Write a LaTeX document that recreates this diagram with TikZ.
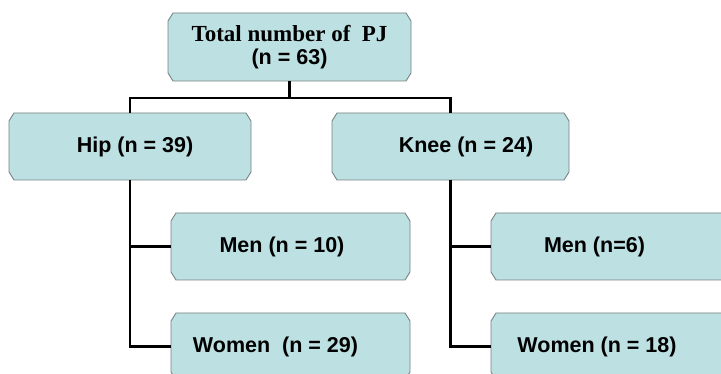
\documentclass[tikz,border=0pt]{standalone}
\usepackage{fontspec}
\setmainfont{Liberation Sans}
\newfontfamily\timesfont{Liberation Serif}
\usetikzlibrary{backgrounds}
\definecolor{boxfill}{RGB}{189,224,227}
\definecolor{boxline}{RGB}{120,130,130}
\newcommand{\chambox}[1]{%
  \filldraw[fill=boxfill, draw=boxline, line width=0.9pt]
    ([xshift=5pt]#1.north west) -- ([xshift=-5pt]#1.north east) --
    ([yshift=-8pt]#1.north east) -- ([yshift=8pt]#1.south east) --
    ([xshift=-5pt]#1.south east) -- ([xshift=5pt]#1.south west) --
    ([yshift=8pt]#1.south west) -- ([yshift=-8pt]#1.north west) -- cycle;}
\begin{document}
\begin{tikzpicture}[x=1pt,y=-1pt,
  box/.style={rectangle, inner sep=0pt, outer sep=0pt,
    font=\fontsize{21.5}{23}\selectfont\bfseries, align=center},
  conn/.style={line width=2.2pt, black}]
\useasboundingbox (0,0) rectangle (721,374);
\node[box, minimum width=243pt, minimum height=68pt] (top) at (289.5,47)
  {{\timesfont\fontsize{23}{23}\selectfont Total number of\ \ PJ}\\(n = 63)};
\node[box, minimum width=242pt, minimum height=67pt] (hip) at (130,146.5) {\hspace*{10pt}Hip (n = 39)};
\node[box, minimum width=237pt, minimum height=67pt] (knee) at (450.5,146.5) {\hspace*{31pt}Knee (n = 24)};
\node[box, minimum width=239pt, minimum height=67pt] (menh) at (290.5,246.5) {Men (n = 10)\hspace*{17pt}};
\node[box, minimum width=239pt, minimum height=67pt] (womh) at (290.5,346.5) {Women\ \ (n = 29)\hspace*{30pt}};
\node[box, minimum width=239pt, minimum height=67pt] (menk) at (610.5,246.5) {Men (n=6)\hspace*{32pt}};
\node[box, minimum width=239pt, minimum height=67pt] (womk) at (610.5,346.5) {Women (n = 18)\hspace*{27pt}};
\begin{scope}[on background layer]
\foreach \b in {top,hip,knee,menh,womh,menk,womk}{\chambox{\b}}
\end{scope}
\coordinate (bus) at (289.5,98);
\draw[conn] (top.south) -- (bus);
\draw[conn] (hip.north) |- (bus) -| (knee.north);
\draw[conn] (hip.south) |- (menh.west);
\draw[conn] (hip.south) |- (womh.west);
\draw[conn] (knee.south) |- (menk.west);
\draw[conn] (knee.south) |- (womk.west);
\end{tikzpicture}
\end{document}
